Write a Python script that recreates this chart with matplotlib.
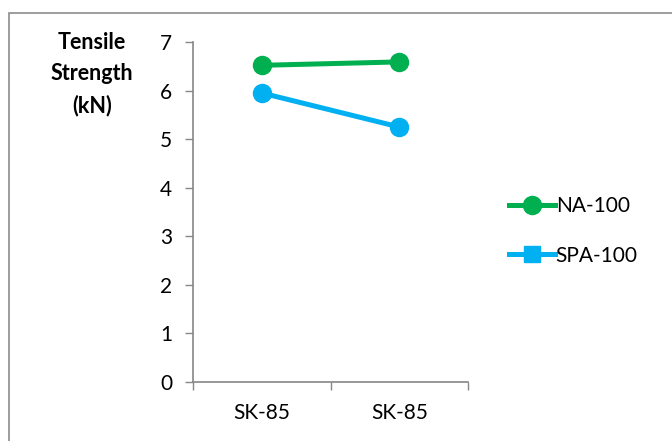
import matplotlib.pyplot as plt
from matplotlib.patches import Rectangle
from matplotlib.lines import Line2D

categories = ["SK-85", "SK-85"]
na_100 = [6.52, 6.59]
spa_100 = [5.95, 5.25]
yticks = [0, 1, 2, 3, 4, 5, 6, 7]

plt.rcParams['font.family'] = ['Lato', 'DejaVu Sans']

fig = plt.figure(figsize=(6.72, 4.41), dpi=100)
ax = fig.add_axes([193/672, 1-382/441, 275/672, 340/441])

x = list(range(len(categories)))
green = "#00B050"
blue = "#00B0F0"
ax.plot(x, na_100, color=green, lw=3.6, marker="o", ms=13, label="NA-100")
ax.plot(x, spa_100, color=blue, lw=3.6, marker="o", ms=13, label="SPA-100")

ax.set_xlim(-0.5, 1.5)
ax.set_ylim(0, 7)
ax.set_yticks(yticks)
ax.set_xticks(x)
ax.set_xticklabels(categories)
ax.set_xticks([-0.5, 0.5, 1.5], minor=True)
ax.tick_params(axis="x", which="major", length=0, pad=15, labelsize=15)
ax.tick_params(axis="x", which="minor", length=6, color="#868686", width=1)
ax.tick_params(axis="y", length=6, color="#868686", width=1, labelsize=15, pad=9)
for s in ["top", "right"]:
    ax.spines[s].set_visible(False)
for s in ["left", "bottom"]:
    ax.spines[s].set_color("#868686")
    ax.spines[s].set_linewidth(1.2)

fig.text(92/672, 1-32/441, "Tensile\nStrength\n(kN)", ha="center", va="top",
         fontsize=15.5, fontweight="bold", linespacing=1.6)

handles = [
    Line2D([], [], color=green, lw=3.6, marker="o", ms=13),
    Line2D([], [], color=blue, lw=3.6, marker="s", ms=12),
]
fig.legend(handles, ["NA-100", "SPA-100"], loc="center left",
           bbox_to_anchor=(490/672, 1-231/441), frameon=False, fontsize=15,
           handlelength=2.2, handletextpad=0.05, labelspacing=1.4)

fig.patches.append(Rectangle((9/672, -0.1), 1.0, 1 - 13/441 + 0.1,
                             transform=fig.transFigure, fill=False,
                             edgecolor="#8c8c8c", lw=1.2))

fig.savefig("out.png", dpi=100)
